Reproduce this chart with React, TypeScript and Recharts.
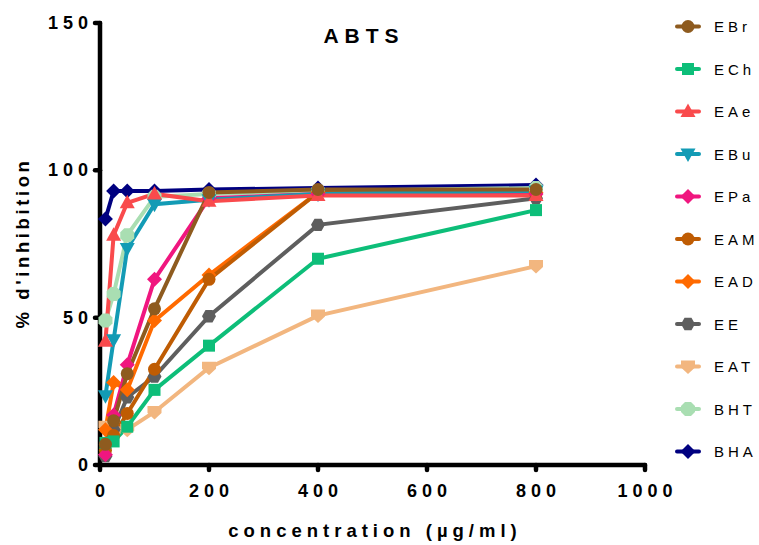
import React from "react";
import { LineChart, Line, XAxis, YAxis } from "recharts";

// ---- data ----
const concentrations = [10, 25, 50, 100, 200, 400, 800];
const EBr = [7, 15, 31, 53, 92.5, 93.5, 93.5];
const ECh = [7.5, 8, 13, 25.5, 40.5, 70, 86.5];
const EAe = [42, 78, 89, 92, 89.5, 91.5, 91.5];
const EBu = [23.5, 42.5, 73.5, 88.5, 90, 92, 93];
const EPa = [3.5, 17, 34, 63, 90.5, 92, 92];
const EAM = [5, 10, 17.5, 32.5, 63, 92.5, 92];
const EAD = [12, 28, 25.5, 49, 64.5, 92.5, 92.5];
const EE = [3, 12, 23, 30, 50.5, 81.5, 90.5];
const EAT = [13, 11, 12, 18, 33, 50.7, 67.5];
const BHT = [49, 58, 78, 91, 92, 93, 94];
const BHA = [83.5, 93, 93, 93, 93.5, 94, 95];

const seriesNames = ["EBr", "ECh", "EAe", "EBu", "EPa", "EAM", "EAD", "EE", "EAT", "BHT", "BHA"];
const seriesValues: Record<string, number[]> = { EBr, ECh, EAe, EBu, EPa, EAM, EAD, EE, EAT, BHT, BHA };
const xTicks = [0, 200, 400, 600, 800, 1000];
const yTicks = [0, 50, 100, 150];

// ---- styles ----
type Shape = "circle" | "square" | "triUp" | "triDown" | "diamond" | "hexagon" | "pentDown" | "octagon";
const seriesStyle: Record<string, { color: string; shape: Shape }> = {
  EBr: { color: "#8E5B1F", shape: "circle" },
  ECh: { color: "#0DBE79", shape: "square" },
  EAe: { color: "#F94A4C", shape: "triUp" },
  EBu: { color: "#139BB5", shape: "triDown" },
  EPa: { color: "#F0167F", shape: "diamond" },
  EAM: { color: "#BF5C03", shape: "circle" },
  EAD: { color: "#FF6A00", shape: "diamond" },
  EE: { color: "#5E5E5E", shape: "hexagon" },
  EAT: { color: "#F2B67F", shape: "pentDown" },
  BHT: { color: "#A9DEB2", shape: "octagon" },
  BHA: { color: "#000080", shape: "diamond" },
};

const tableData = concentrations.map((c, i) => {
  const row: Record<string, number> = { x: c };
  seriesNames.forEach((n) => (row[n] = seriesValues[n][i]));
  return row;
});

const FONT = "Arial, 'Liberation Sans', Helvetica, sans-serif";

function Marker({ shape, cx, cy, color }: { shape: Shape; cx: number; cy: number; color: string }) {
  const pts = (arr: number[][]) => arr.map(([dx, dy]) => `${cx + dx},${cy + dy}`).join(" ");
  switch (shape) {
    case "circle":
      return <circle cx={cx} cy={cy} r={6.5} fill={color} />;
    case "square":
      return <rect x={cx - 6} y={cy - 6} width={12} height={12} fill={color} />;
    case "triUp":
      return <polygon points={pts([[0, -8], [7.5, 5.5], [-7.5, 5.5]])} fill={color} />;
    case "triDown":
      return <polygon points={pts([[0, 8], [7.5, -5.5], [-7.5, -5.5]])} fill={color} />;
    case "diamond":
      return <polygon points={pts([[0, -7.5], [7.5, 0], [0, 7.5], [-7.5, 0]])} fill={color} />;
    case "hexagon":
      return <polygon points={pts([[-7, 0], [-3.5, -6.2], [3.5, -6.2], [7, 0], [3.5, 6.2], [-3.5, 6.2]])} fill={color} />;
    case "pentDown":
      return <polygon points={pts([[-7, -6], [7, -6], [7, 1], [0, 7.5], [-7, 1]])} fill={color} />;
    case "octagon":
      return (
        <polygon
          points={pts([[-7, -3], [-3, -7], [3, -7], [7, -3], [7, 3], [3, 7], [-3, 7], [-7, 3]])}
          fill={color}
        />
      );
  }
  return null;
}

const makeDot = (name: string) => (props: any) => {
  const { cx, cy, index } = props;
  if (cx == null || cy == null) return <g key={`${name}-${index}`} />;
  const st = seriesStyle[name];
  return (
    <g key={`${name}-${index}`}>
      <Marker shape={st.shape} cx={cx} cy={cy} color={st.color} />
    </g>
  );
};

const YTick = (props: any) => {
  const { x, y, payload } = props;
  return (
    <text x={x} y={y} textAnchor="end" dominantBaseline="central" fontFamily={FONT} fontWeight="bold" fontSize={18} letterSpacing={5} fill="#000">
      {payload.value}
    </text>
  );
};

const XTick = (props: any) => {
  const { x, y, payload } = props;
  return (
    <text x={x + 2.5} y={y + 19} textAnchor="middle" dominantBaseline="central" fontFamily={FONT} fontWeight="bold" fontSize={18} letterSpacing={5} fill="#000">
      {payload.value}
    </text>
  );
};

export default function App() {
  const drawOrder = [...seriesNames].reverse();
  return (
    <div style={{ position: "absolute", left: 0, top: 0, width: 759, height: 545, background: "#fff" }}>
      <LineChart width={759} height={545} data={tableData} margin={{ top: 23, right: 114, bottom: 0, left: 0 }}>
        <XAxis
          type="number"
          dataKey="x"
          domain={[0, 1000]}
          ticks={xTicks}
          interval={0}
          height={80}
          axisLine={{ stroke: "#000", strokeWidth: 4.5, strokeLinecap: "round" }}
          tickLine={{ stroke: "#000", strokeWidth: 4.5, strokeLinecap: "round" }}
          tickSize={5}
          tick={<XTick />}
        />
        <YAxis
          type="number"
          domain={[0, 150]}
          ticks={yTicks}
          interval={0}
          width={100}
          axisLine={{ stroke: "#000", strokeWidth: 4.5, strokeLinecap: "round" }}
          tickLine={{ stroke: "#000", strokeWidth: 4.5, strokeLinecap: "round" }}
          tickSize={5}
          tick={<YTick />}
        />
        {drawOrder.map((n) => (
          <Line
            key={n}
            type="linear"
            dataKey={n}
            stroke={seriesStyle[n].color}
            strokeWidth={4}
            dot={makeDot(n)}
            activeDot={false}
            isAnimationActive={false}
          />
        ))}
      </LineChart>
      <svg width={759} height={545} style={{ position: "absolute", left: 0, top: 0, pointerEvents: "none" }}>
        <text x={364} y={35} textAnchor="middle" dominantBaseline="central" fontFamily={FONT} fontWeight="bold" fontSize={21} letterSpacing={6}>
          ABTS
        </text>
        <text
          x={22}
          y={243}
          transform="rotate(-90 22 243)"
          textAnchor="middle"
          dominantBaseline="central"
          fontFamily={FONT}
          fontWeight="bold"
          fontSize={18.5}
          letterSpacing={3.6}
        >
          % d'inhibition
        </text>
        <text x={375} y={530} textAnchor="middle" dominantBaseline="central" fontFamily={FONT} fontWeight="bold" fontSize={18.5} letterSpacing={5}>
          concentration (µg/ml)
        </text>
        {seriesNames.map((n, i) => {
          const y = 26.5 + i * 42.5;
          const st = seriesStyle[n];
          return (
            <g key={n}>
              <line x1={677} x2={699} y1={y} y2={y} stroke={st.color} strokeWidth={4} strokeLinecap="round" />
              <Marker shape={st.shape} cx={688} cy={y} color={st.color} />
              <text x={714} y={y} dominantBaseline="central" fontFamily={FONT} fontSize={15} letterSpacing={4} fill="#000">
                {n}
              </text>
            </g>
          );
        })}
      </svg>
    </div>
  );
}
